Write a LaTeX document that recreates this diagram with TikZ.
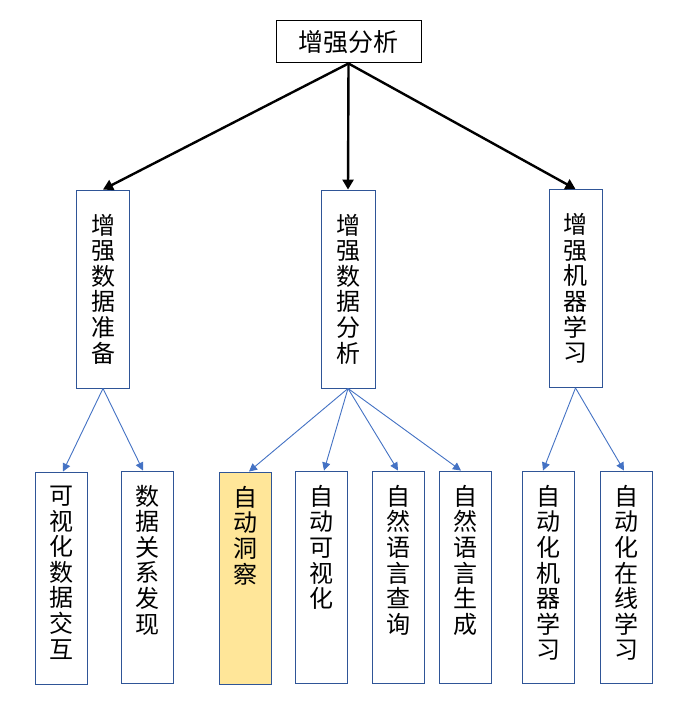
\documentclass[tikz,border=0pt]{standalone}
\usepackage{fontspec}
\setmainfont{Noto Sans CJK SC}
\usetikzlibrary{arrows.meta}
\definecolor{boxblue}{HTML}{2F5597}
\definecolor{linkblue}{HTML}{4472C4}
\definecolor{hlyellow}{HTML}{FFE699}
\newcommand{\cjkfs}{\fontsize{24}{25.6}\selectfont}
\newcommand{\toptext}[1]{\parbox[c][212pt][t]{50pt}{\vspace*{14pt}\centering #1}}
\tikzset{
  topbox/.style={draw=black, line width=1pt, inner sep=0pt, minimum width=145pt, minimum height=42pt, font=\fontsize{25}{27}\selectfont, fill=white},
  midbox/.style={draw=boxblue, line width=0.9pt, inner sep=0pt, minimum width=53pt, minimum height=198pt, align=center, font=\cjkfs, fill=white},
  botbox/.style={draw=boxblue, line width=0.9pt, inner sep=0pt, minimum width=52pt, minimum height=212pt, font=\cjkfs, fill=white},
  bigarrow/.style={line width=2.4pt, -{Triangle[length=10pt,width=11pt]}},
  smallarrow/.style={draw=linkblue, line width=0.9pt, -{Triangle[length=8pt,width=8pt]}, fill=none},
}
\begin{document}
\begin{tikzpicture}[x=1pt,y=-1pt]
\useasboundingbox (0,0) rectangle (697,714);
\fill[white] (0,0) rectangle (697,714);

\node[topbox] (top) at (348.5,42) {增强分析};

\node[midbox] (m1) at (103,289) {增\\强\\数\\据\\准\\备};
\node[midbox, minimum width=54pt] (m2) at (348,289) {增\\强\\数\\据\\分\\析};
\node[midbox] (m3) at (575.5,288.5) {增\\强\\机\\器\\学\\习};

\node[botbox] (b1) at (61,578) {\toptext{可\\视\\化\\数\\据\\交\\互}};
\node[botbox] (b2) at (147,577) {\toptext{数\\据\\关\\系\\发\\现}};
\node[botbox, fill=hlyellow] (b3) at (245,578) {\toptext{自\\动\\洞\\察}};
\node[botbox] (b4) at (321,577) {\toptext{自\\动\\可\\视\\化}};
\node[botbox] (b5) at (398,577) {\toptext{自\\然\\语\\言\\查\\询}};
\node[botbox] (b6) at (465,577) {\toptext{自\\然\\语\\言\\生\\成}};
\node[botbox] (b7) at (548,577) {\toptext{自\\动\\化\\机\\器\\学\\习}};
\node[botbox] (b8) at (626,577) {\toptext{自\\动\\化\\在\\线\\学\\习}};

\draw[bigarrow] (top.south) -- (m1.north);
\draw[bigarrow] (top.south) -- (m2.north);
\draw[bigarrow] (top.south) -- (m3.north);

\draw[smallarrow] (m1.south) -- ([xshift=2pt]b1.north);
\draw[smallarrow] (m1.south) -- ([xshift=-4pt]b2.north);
\draw[smallarrow] (m2.south) -- ([xshift=4pt]b3.north);
\draw[smallarrow] (m2.south) -- ([xshift=3pt]b4.north);
\draw[smallarrow] (m2.south) -- (b5.north);
\draw[smallarrow] (m2.south) -- ([xshift=-4pt]b6.north);
\draw[smallarrow] (m3.south) -- ([xshift=-5pt]b7.north);
\draw[smallarrow] (m3.south) -- ([xshift=-2pt]b8.north);
\end{tikzpicture}
\end{document}
